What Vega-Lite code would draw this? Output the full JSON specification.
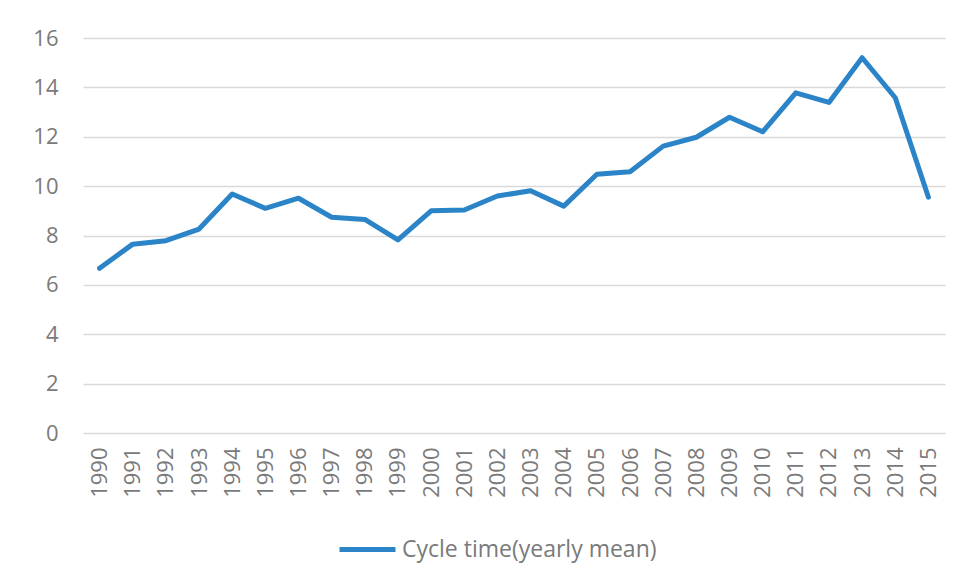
{
  "$schema": "https://vega.github.io/schema/vega-lite/v6.json",
  "autosize": "none",
  "width": 862,
  "height": 395,
  "padding": {"left": 83, "top": 38, "right": 25, "bottom": 147},
  "background": "white",
  "data": {
    "values": [
      {"year": "1990", "value": 6.67, "series": "Cycle time(yearly mean)"},
      {"year": "1991", "value": 7.65, "series": "Cycle time(yearly mean)"},
      {"year": "1992", "value": 7.79, "series": "Cycle time(yearly mean)"},
      {"year": "1993", "value": 8.26, "series": "Cycle time(yearly mean)"},
      {"year": "1994", "value": 9.68, "series": "Cycle time(yearly mean)"},
      {"year": "1995", "value": 9.10, "series": "Cycle time(yearly mean)"},
      {"year": "1996", "value": 9.51, "series": "Cycle time(yearly mean)"},
      {"year": "1997", "value": 8.74, "series": "Cycle time(yearly mean)"},
      {"year": "1998", "value": 8.65, "series": "Cycle time(yearly mean)"},
      {"year": "1999", "value": 7.82, "series": "Cycle time(yearly mean)"},
      {"year": "2000", "value": 9.00, "series": "Cycle time(yearly mean)"},
      {"year": "2001", "value": 9.03, "series": "Cycle time(yearly mean)"},
      {"year": "2002", "value": 9.60, "series": "Cycle time(yearly mean)"},
      {"year": "2003", "value": 9.81, "series": "Cycle time(yearly mean)"},
      {"year": "2004", "value": 9.19, "series": "Cycle time(yearly mean)"},
      {"year": "2005", "value": 10.48, "series": "Cycle time(yearly mean)"},
      {"year": "2006", "value": 10.58, "series": "Cycle time(yearly mean)"},
      {"year": "2007", "value": 11.62, "series": "Cycle time(yearly mean)"},
      {"year": "2008", "value": 11.98, "series": "Cycle time(yearly mean)"},
      {"year": "2009", "value": 12.79, "series": "Cycle time(yearly mean)"},
      {"year": "2010", "value": 12.20, "series": "Cycle time(yearly mean)"},
      {"year": "2011", "value": 13.78, "series": "Cycle time(yearly mean)"},
      {"year": "2012", "value": 13.39, "series": "Cycle time(yearly mean)"},
      {"year": "2013", "value": 15.20, "series": "Cycle time(yearly mean)"},
      {"year": "2014", "value": 13.58, "series": "Cycle time(yearly mean)"},
      {"year": "2015", "value": 9.55, "series": "Cycle time(yearly mean)"}
    ]
  },
  "mark": {"type": "line", "strokeWidth": 5, "strokeJoin": "round", "strokeCap": "round"},
  "encoding": {
    "x": {
      "field": "year", "type": "ordinal", "sort": null,
      "scale": {"type": "point", "padding": 0.5},
      "axis": {
        "title": null, "labelAngle": -90, "labelAlign": "right", "labelBaseline": "middle",
        "labelFont": "Open Sans", "labelFontSize": 22, "labelColor": "#7a7a7a",
        "labelPadding": 14, "ticks": false, "domain": false, "grid": false
      }
    },
    "y": {
      "field": "value", "type": "quantitative",
      "scale": {"domain": [0, 16], "nice": false, "zero": true},
      "axis": {
        "title": null, "values": [0, 2, 4, 6, 8, 10, 12, 14, 16],
        "labelFont": "Open Sans", "labelFontSize": 22, "labelColor": "#7a7a7a",
        "labelPadding": 25, "ticks": false, "domain": false,
        "grid": true, "gridColor": "#d9d9d9", "gridWidth": 1.5
      }
    },
    "color": {
      "field": "series", "type": "nominal",
      "scale": {"range": ["#2a84c7"]},
      "legend": {
        "title": null, "orient": "none", "legendX": 254, "legendY": 481,
        "symbolType": "stroke", "symbolStrokeWidth": 5,
        "symbolSize": 3136, "labelFont": "Open Sans", "labelFontSize": 23,
        "labelColor": "#7a7a7a", "labelOffset": 4, "labelLimit": 400
      }
    }
  },
  "config": {"view": {"stroke": null}}
}
